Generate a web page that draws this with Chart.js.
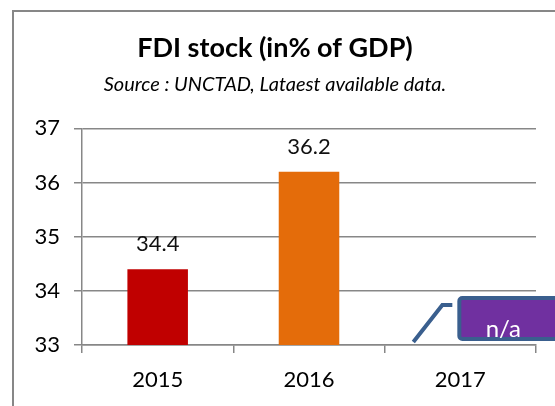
<!DOCTYPE html>
<html>
<head>
<meta charset="utf-8">
<script src="https://cdn.jsdelivr.net/npm/chart.js@4.4.1/dist/chart.umd.min.js"></script>
<style>
  html, body { margin: 0; padding: 0; background: #fff; overflow: hidden; }
  #wrap { position: relative; width: 555px; height: 406px; }
</style>
</head>
<body>
<div id="wrap"><canvas id="fdi" width="555" height="406"></canvas></div>
<script>
const years = ['2015', '2016', '2017'];
const fdiStock = [34.4, 36.2, null];
const barColors = ['#C00000', '#E46C0A', '#7030A0'];
const yTicks = [33, 34, 35, 36, 37];
const naLabel = 'n/a';

const FONT = 'Lato, "Open Sans", sans-serif';
const GRID = '#878787';

// frame around the chart
const framePlugin = {
  id: 'frame',
  beforeDraw(chart) {
    const ctx = chart.ctx;
    ctx.save();
    ctx.strokeStyle = GRID;
    ctx.lineWidth = 2;
    ctx.strokeRect(13, 11, 700, 600);
    ctx.restore();
  }
};

// value labels above bars
const valueLabels = {
  id: 'valueLabels',
  afterDatasetsDraw(chart) {
    const ctx = chart.ctx;
    const meta = chart.getDatasetMeta(0);
    ctx.save();
    ctx.fillStyle = '#111';
    ctx.font = '22px ' + FONT;
    ctx.textAlign = 'center';
    ctx.textBaseline = 'middle';
    meta.data.forEach((bar, i) => {
      const v = fdiStock[i];
      if (v === null) return;
      ctx.fillText(v.toFixed(1), bar.x, bar.y - 25);
    });
    ctx.restore();
  }
};

// "n/a" callout for the missing year
const naCallout = {
  id: 'naCallout',
  afterDatasetsDraw(chart) {
    const idx = fdiStock.indexOf(null);
    if (idx < 0) return;
    const ctx = chart.ctx;
    const cx = chart.scales.x.getPixelForValue(idx);
    const base = chart.scales.y.getPixelForValue(yTicks[0]);
    ctx.save();
    ctx.strokeStyle = '#3A5F8E';
    ctx.lineWidth = 4;
    ctx.lineJoin = 'miter';
    ctx.beginPath();
    ctx.moveTo(cx - 47, base - 3);
    ctx.lineTo(cx - 18, base - 40);
    ctx.lineTo(cx - 8, base - 40);
    ctx.stroke();

    const bx = cx - 1, by = base - 47, bw = 120, bh = 41;
    ctx.beginPath();
    ctx.roundRect(bx, by, bw, bh, 3);
    ctx.fillStyle = barColors[idx];
    ctx.fill();
    ctx.stroke();

    ctx.fillStyle = '#fff';
    ctx.font = '24px ' + FONT;
    ctx.textAlign = 'center';
    ctx.textBaseline = 'alphabetic';
    ctx.fillText(naLabel, cx + 43, base - 8);
    ctx.restore();
  }
};

new Chart(document.getElementById('fdi'), {
  type: 'bar',
  data: {
    labels: years,
    datasets: [{
      data: fdiStock,
      backgroundColor: barColors,
      borderWidth: 0,
      categoryPercentage: 1,
      barPercentage: 0.4
    }]
  },
  options: {
    responsive: false,
    animation: false,
    devicePixelRatio: 1,
    layout: { padding: { left: 14, right: 19, top: 20, bottom: 0 } },
    plugins: {
      legend: { display: false },
      tooltip: { enabled: false },
      title: {
        display: true,
        text: 'FDI stock (in% of GDP)',
        color: '#000',
        font: { family: FONT, size: 27, weight: 'bold', lineHeight: 1.2 },
        padding: { top: 12, bottom: 8 }
      },
      subtitle: {
        display: true,
        text: 'Source : UNCTAD, Lataest available data.',
        color: '#000',
        font: { family: FONT, size: 20, style: 'italic', lineHeight: 1.2 },
        padding: { top: 0, bottom: 32 }
      }
    },
    scales: {
      x: {
        afterFit(s) { s.height = 61; },
        grid: { drawOnChartArea: false, drawTicks: true, tickLength: 8, offset: true, color: GRID, lineWidth: 1.5 },
        border: { color: GRID, width: 1.5 },
        ticks: { color: '#000', font: { family: FONT, size: 22 }, padding: 14 }
      },
      y: {
        min: yTicks[0],
        max: yTicks[yTicks.length - 1],
        afterFit(s) { s.width = 68; },
        afterBuildTicks(s) { s.ticks = yTicks.map(v => ({ value: v })); },
        grid: { color: GRID, lineWidth: 1.5, tickLength: 8 },
        border: { color: GRID, width: 1.5 },
        ticks: { color: '#000', font: { family: FONT, size: 22 }, padding: 14 }
      }
    }
  },
  plugins: [framePlugin, valueLabels, naCallout]
});
</script>
</body>
</html>
